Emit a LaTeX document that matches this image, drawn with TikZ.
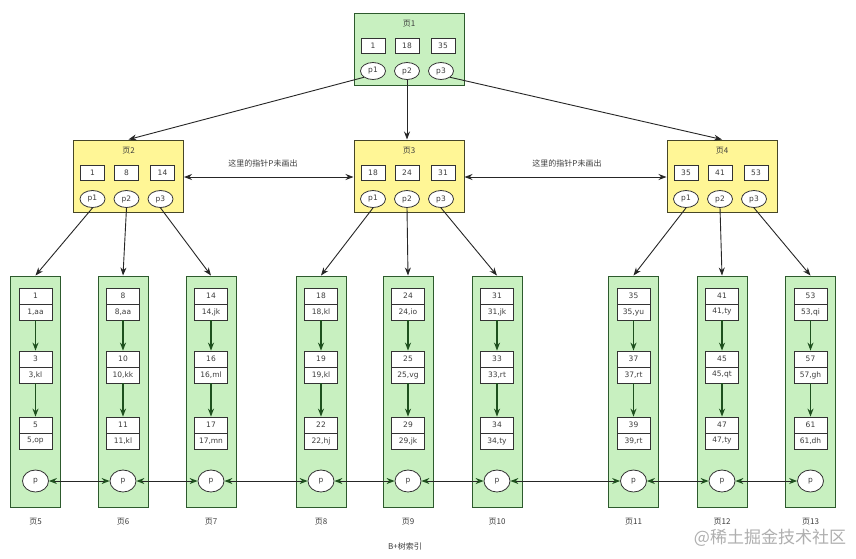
\documentclass[tikz,border=0pt]{standalone}
\usepackage{fontspec}
\setmainfont{DejaVu Sans}
\newfontfamily\cjk{Noto Sans CJK SC}
\usetikzlibrary{arrows.meta,shapes.geometric}
\definecolor{leaffill}{RGB}{200,240,192}
\definecolor{leafdraw}{RGB}{45,90,45}
\definecolor{pagefill}{RGB}{255,246,150}
\definecolor{pagedraw}{RGB}{70,70,40}
\definecolor{txt}{RGB}{60,60,60}
\definecolor{dkgreen}{RGB}{30,80,30}
\definecolor{wm}{RGB}{175,175,175}
\begin{document}
\begin{tikzpicture}[x=1pt,y=-1pt,
 greenpage/.style={draw=leafdraw,fill=leaffill,line width=1pt,minimum width=110pt,minimum height=72pt,inner sep=0pt},
 yellowpage/.style={draw=pagedraw,fill=pagefill,line width=1pt,minimum width=110pt,minimum height=72pt,inner sep=0pt},
 keybox/.style={draw=black!80,fill=white,line width=0.8pt,minimum width=24pt,minimum height=15pt,inner sep=0pt,font=\fontsize{7.5}{8}\selectfont,text=txt},
 ptr/.style={ellipse,draw=black!80,fill=white,line width=0.8pt,minimum width=25pt,minimum height=17pt,inner sep=0pt,font=\fontsize{7.5}{8}\selectfont,text=txt},
 leafbox/.style={draw=leafdraw,fill=leaffill,line width=1pt,minimum width=50pt,minimum height=231pt,inner sep=0pt},
 rec/.style={draw=black!80,fill=white,line width=0.8pt,minimum width=33pt,minimum height=16pt,inner sep=0pt,font=\fontsize{7.5}{8}\selectfont,text=txt},
 lp/.style={ellipse,draw=black!80,fill=white,line width=0.8pt,minimum width=26pt,minimum height=22pt,inner sep=0pt,font=\fontsize{7.5}{8}\selectfont,text=txt},
 plabel/.style={font=\cjk\fontsize{8}{9}\selectfont,text=txt,inner sep=0pt},
 tree/.style={-{Stealth[length=8pt,width=6pt]},line width=0.9pt,draw=black!85},
 chainarrow/.style={-{Stealth[length=8pt,width=6pt]},line width=1.3pt,draw=dkgreen,color=dkgreen},
 dbl/.style={{Stealth[length=8pt,width=6pt,color=dkgreen]}-{Stealth[length=8pt,width=6pt,color=dkgreen]},line width=1pt,draw=black!85},
 hdbl/.style={{Stealth[length=8pt,width=6pt]}-{Stealth[length=8pt,width=6pt]},line width=0.9pt,draw=black!85}
]
\useasboundingbox (0,0) rectangle (856,558);
\fill[white] (0,0) rectangle (856,558);

% root page
\node[greenpage] (P1) at (409,49) {};
\node[plabel] (P1t) at (409,24) {页1};
\node[keybox] (P1k1) at (373,46) {1};
\node[keybox] (P1k2) at (407,46) {18};
\node[keybox] (P1k3) at (443,46) {35};
\node[ptr] (P1p1) at (373,71) {p1};
\node[ptr] (P1p2) at (407,71) {p2};
\node[ptr] (P1p3) at (441,71) {p3};

% middle pages
\foreach \n/\cx/\a/\b/\c in {2/128.5/1/8/14, 3/409/18/24/31, 4/722/35/41/53}{
  \node[yellowpage] (P\n) at (\cx,176) {};
  \node[plabel] (P\n t) at (\cx,151) {页\n};
  \node[keybox] (P\n k1) at (\cx-36,172.5) {\a};
  \node[keybox] (P\n k2) at (\cx-2,172.5) {\b};
  \node[keybox] (P\n k3) at (\cx+34,172.5) {\c};
  \node[ptr] (P\n p1) at (\cx-36,199) {p1};
  \node[ptr] (P\n p2) at (\cx-2,199) {p2};
  \node[ptr] (P\n p3) at (\cx+32,199) {p3};
}

% root arrows
\draw[tree] (P1p1.south west) -- (P2.north);
\draw[tree] (P1p2.south) -- (P1p2.south |- P3.north);
\draw[tree] (P1p3.south east) -- (P4.north);

% horizontal arrows between middle pages
\draw[hdbl] (P2.east |- 0,177) -- (P3.west |- 0,177);
\draw[hdbl] (P3.east |- 0,177) -- (P4.west |- 0,177);
\node[plabel] (note1) at (263,163) {这里的指针P未画出};
\node[plabel] (note2) at (567,163) {这里的指针P未画出};

% leaves
\foreach \n/\cx/\ka/\va/\kb/\vb/\kc/\vc in {
  5/35.5/1/{1,aa}/3/{3,kl}/5/{5,op},
  6/123/8/{8,aa}/10/{10,kk}/11/{11,kl},
  7/211/14/{14,jk}/16/{16,ml}/17/{17,mn},
  8/321/18/{18,kl}/19/{19,kl}/22/{22,hj},
  9/408/24/{24,io}/25/{25,vg}/29/{29,jk},
  10/497/31/{31,jk}/33/{33,rt}/34/{34,ty},
  11/633.5/35/{35,yu}/37/{37,rt}/39/{39,rt},
  12/722/41/{41,ty}/45/{45,qt}/47/{47,ty},
  13/810.5/53/{53,qi}/57/{57,gh}/61/{61,dh}}{
  \node[leafbox] (L\n) at (\cx,391.5) {};
  \node[rec] (L\n a) at (\cx,296) {\ka};
  \node[rec] (L\n av) at (\cx,312) {\va};
  \node[rec] (L\n b) at (\cx,359) {\kb};
  \node[rec] (L\n bv) at (\cx,375) {\vb};
  \node[rec] (L\n c) at (\cx,425) {\kc};
  \node[rec] (L\n cv) at (\cx,441) {\vc};
  \draw[chainarrow] (L\n av.south) -- (L\n b.north);
  \draw[chainarrow] (L\n bv.south) -- (L\n c.north);
  \node[lp] (p\n) at (\cx,481) {p};
  \node[plabel] (L\n t) at (\cx,522) {页\n};
}

% page to leaf arrows
\draw[tree] (P2p1.south) -- (L5.north);
\draw[tree] (P2p2.south) -- (L6.north);
\draw[tree] (P2p3.south) -- (L7.north);
\draw[tree] (P3p1.south) -- (L8.north);
\draw[tree] (P3p2.south) -- (L9.north);
\draw[tree] (P3p3.south) -- (L10.north);
\draw[tree] (P4p1.south) -- (L11.north);
\draw[tree] (P4p2.south) -- (L12.north);
\draw[tree] (P4p3.south) -- (L13.north);

% leaf chain
\foreach \i [evaluate=\i as \j using int(\i+1)] in {5,...,12}{
  \draw[dbl] (p\i.east) -- (p\j.west);
}

\node[plabel] (cap) at (405,546) {B+树索引};
\node[font=\cjk\fontsize{17}{20}\selectfont,text=wm,inner sep=0pt] (wmark) at (770,538) {@稀土掘金技术社区};
\end{tikzpicture}
\end{document}
